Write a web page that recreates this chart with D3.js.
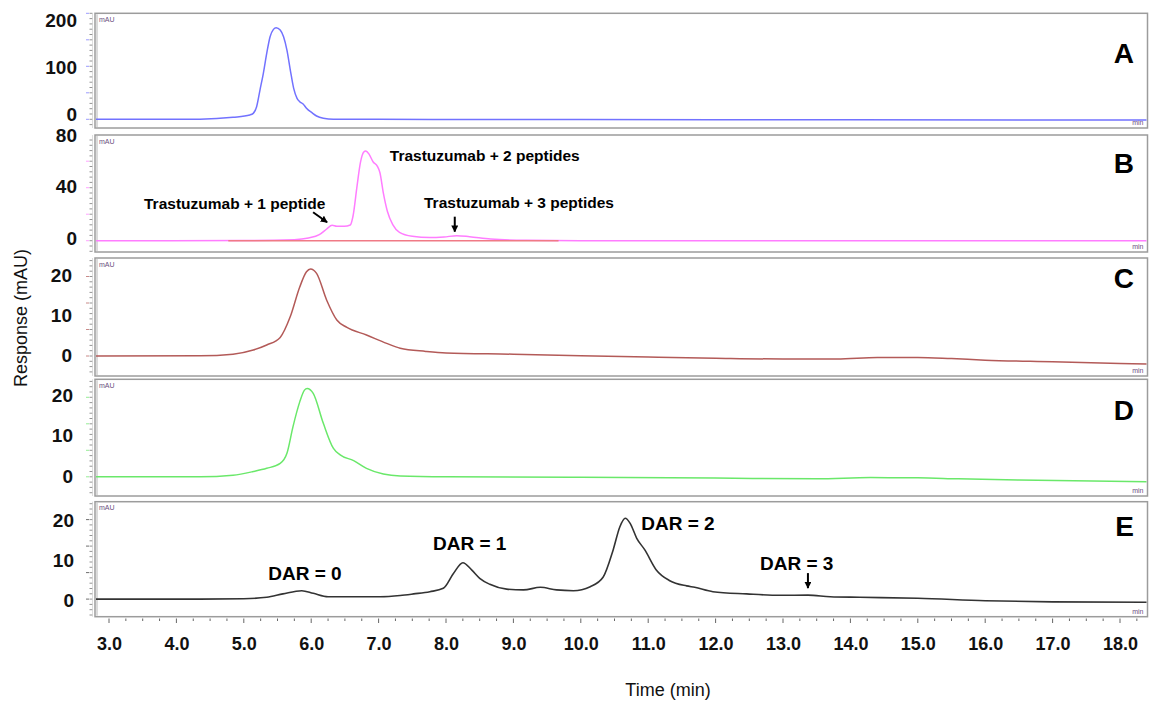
<!DOCTYPE html>
<html><head><meta charset="utf-8">
<script src="https://cdn.jsdelivr.net/npm/d3@7/dist/d3.min.js"></script>
<style>
body{margin:0;background:#fff}
svg{display:block}
text{font-family:"Liberation Sans",Arial,Helvetica,sans-serif}
</style>
</head><body>
<svg id="chart" width="1150" height="702"></svg>
<script>
// ---------------- DATA ----------------
const xTickValues = [3,4,5,6,7,8,9,10,11,12,13,14,15,16,17,18];
const panelLetters = ["A","B","C","D","E"];

const yTicksA = [0,100,200];
const yTicksB = [0,40,80];
const yTicksC = [0,10,20];
const yTicksD = [0,10,20];
const yTicksE = [0,10,20];

const timesA  = [2.79,3.5,4.35,4.84,5.09,5.14,5.19,5.24,5.29,5.34,5.39,5.44,5.48,5.54,5.59,5.64,5.69,5.74,5.79,5.83,5.88,5.93,6.01,6.08,6.18,6.33,7.0,10.0,14.0,18.41];
const valuesA = [-11.3,-11.3,-11,-7,-2,1.4,15.6,51,86.6,129,164.5,180,183.7,178.7,164.5,136,93.6,54.6,33.4,26.2,21.3,12.1,2.8,-4.3,-9.1,-11.3,-11.4,-11.8,-12.2,-12.8];

const timesB  = [2.79,5.0,5.75,5.96,6.12,6.23,6.31,6.38,6.49,6.58,6.62,6.68,6.73,6.78,6.81,6.86,6.92,6.98,7.02,7.07,7.13,7.21,7.31,7.50,7.76,7.97,8.16,8.35,8.66,9.19,9.99,14.0,18.41];
const valuesB = [-2.1,-2.0,-1.3,0,2.6,7.0,9.9,9.1,9.1,10.1,16.9,40.3,58.5,66.8,67.6,65,59,55.9,50.7,35.1,20.8,10.4,4.4,1.3,0.3,0.8,1.8,1.0,-0.8,-1.8,-2.1,-2.1,-2.1];
const baselineTimesB  = [4.77,9.67];
const baselineValuesB = [-2.1,-2.1];

const timesC  = [2.79,4.35,4.84,5.14,5.34,5.54,5.69,5.83,5.93,5.99,6.08,6.23,6.38,6.53,6.82,7.12,7.32,7.7,8.0,9.0,10.0,11.0,12.0,13.0,13.8,14.4,15.0,15.5,16.0,17.0,18.0,18.41];
const valuesC = [-0.25,-0.2,0.2,1.25,2.5,4.4,9.6,17,20.8,21.5,20.4,13.7,8.75,6.9,5.0,2.9,1.7,0.9,0.5,0.2,-0.2,-0.5,-0.8,-1.0,-1.0,-0.6,-0.6,-0.9,-1.3,-1.7,-2.1,-2.25];

const timesD  = [2.79,4.35,4.84,5.14,5.34,5.54,5.64,5.73,5.83,5.90,5.94,6.03,6.18,6.33,6.43,6.63,6.82,7.07,7.32,8.0,10.0,12.0,13.5,14.3,15.0,15.6,16.5,18.41];
const valuesD  = [-0.2,-0.2,0.2,1.1,1.9,3.1,5.6,12.2,18.3,21.2,21.6,20.4,13.0,6.8,5.2,3.8,1.9,0.5,0,-0.2,-0.3,-0.5,-0.7,-0.4,-0.45,-0.7,-1.0,-1.4];

const timesE  = [2.79,4.35,5.0,5.34,5.58,5.86,6.03,6.25,6.82,7.02,7.32,7.52,7.76,7.96,8.11,8.25,8.38,8.50,8.65,8.90,9.15,9.40,9.64,9.89,10.14,10.33,10.48,10.58,10.66,10.73,10.83,10.95,11.12,11.32,11.57,11.69,11.96,12.46,12.96,13.37,13.70,14.14,15.0,16.0,17.0,18.41];
const valuesE = [0.4,0.4,0.5,0.85,1.7,2.5,1.85,1.0,1.0,1.0,1.3,1.7,2.25,3.1,6.8,9.5,7.7,5.6,4.1,2.9,2.7,3.35,2.7,2.5,3.5,5.85,12.7,18.5,20.6,19.4,15.6,12.7,7.7,5.0,3.7,3.35,2.25,1.7,1.35,1.4,1.0,0.85,0.6,0.0,-0.3,-0.4];

// ---------------- LAYOUT ----------------
const frameLeft = 95, frameRight = 1147.5;
const x = d3.scaleLinear().domain([3,18]).range([109,1120]);

const panels = [
  {id:"A", top:13.3, bottom:128, ticks:yTicksA, y:d3.scaleLinear().domain([0,200]).range([114,20]), labelX:77, color:"#7272ff", t:timesA, v:valuesA, letterY:63},
  {id:"B", top:135, bottom:252, ticks:yTicksB, y:d3.scaleLinear().domain([0,80]).range([238,135]), labelX:77, color:"#ff7dff", t:timesB, v:valuesB, letterY:173},
  {id:"C", top:258, bottom:376, ticks:yTicksC, y:d3.scaleLinear().domain([0,20]).range([355,275]), labelX:72, color:"#b35a58", t:timesC, v:valuesC, letterY:288},
  {id:"D", top:379.3, bottom:496, ticks:yTicksD, y:d3.scaleLinear().domain([0,20]).range([476,395]), labelX:73, color:"#6ae86a", t:timesD, v:valuesD, letterY:420},
  {id:"E", top:501.7, bottom:616.7, ticks:yTicksE, y:d3.scaleLinear().domain([0,20]).range([600.7,520.7]), labelX:74, color:"#333333", t:timesE, v:valuesE, letterY:536}
];

const svg = d3.select("#chart");
const defs = svg.append("defs");
defs.append("marker").attr("id","arr").attr("viewBox","0 0 10 10").attr("refX",9).attr("refY",5)
  .attr("markerWidth",7).attr("markerHeight",7).attr("markerUnits","userSpaceOnUse").attr("orient","auto")
  .append("path").attr("d","M0,0 L10,5 L0,10 z").attr("fill","#000");

panels.forEach((p,i) => {
  const g = svg.append("g");
  defs.append("clipPath").attr("id","clip"+p.id).append("rect")
    .attr("x",frameLeft+1).attr("y",p.top+1).attr("width",frameRight-frameLeft-2).attr("height",p.bottom-p.top-2);

  // frame
  g.append("rect").attr("x",frameLeft).attr("y",p.top).attr("width",frameRight-frameLeft).attr("height",p.bottom-p.top)
    .attr("fill","#fff").attr("stroke","#9c9c9c").attr("stroke-width",1.5);
  g.append("line").attr("x1",frameLeft+2).attr("x2",frameLeft+2).attr("y1",p.top+1).attr("y2",p.bottom-1)
    .attr("stroke","#b8b8b8").attr("stroke-width",1);

  // instrument tick column (decorative)
  const base = p.y(p.v[0]);
  const step = 5.3;
  const minor = d3.range(Math.ceil((p.top - base)/step), Math.floor((p.bottom - base)/step)+1).map(k => ({k, yy: base + k*step}));
  g.selectAll(".mt").data(minor).enter().append("line")
    .attr("x1",89.5).attr("x2",92.5).attr("y1",d=>d.yy).attr("y2",d=>d.yy)
    .attr("stroke","#777").attr("stroke-width",0.8);
  g.selectAll(".Mt").data(minor.filter(d => d.k % 5 === 0)).enter().append("line")
    .attr("x1",86).attr("x2",89).attr("y1",d=>d.yy).attr("y2",d=>d.yy)
    .attr("stroke",p.color).attr("stroke-width",1).attr("opacity",0.7);
  g.append("line").attr("x1",92.5).attr("x2",92.5).attr("y1",p.top).attr("y2",p.bottom).attr("stroke","#c8c8c8").attr("stroke-width",0.6);

  // mAU / min labels
  g.append("text").attr("x",99).attr("y",p.top+8.5).text("mAU").attr("font-size",7).attr("fill","#6d4f80");
  g.append("text").attr("x",frameRight-4).attr("y",p.bottom-3).text("min").attr("font-size",7).attr("fill","#6d4f80").attr("text-anchor","end");

  // y labels
  const ax = d3.axisLeft(p.y).tickValues(p.ticks).tickSize(0).tickPadding(0).tickFormat(d3.format("d"));
  const ag = g.append("g").attr("transform",`translate(${p.labelX},0)`).call(ax);
  ag.select(".domain").remove();
  ag.selectAll("text").attr("font-size",19).attr("font-weight","bold").attr("fill","#111")
    .attr("font-family","Liberation Sans, Arial, sans-serif");

  // data
  const line = d3.line().x((d,j)=>x(p.t[j])).y((d,j)=>p.y(p.v[j])).curve(d3.curveMonotoneX);
  const cg = g.append("g").attr("clip-path",`url(#clip${p.id})`);
  if (p.id === "B") {
    const bl = d3.line().x((d,j)=>x(baselineTimesB[j])).y((d,j)=>p.y(baselineValuesB[j]));
    cg.append("path").attr("d",line(p.v)).attr("fill","none").attr("stroke",p.color).attr("stroke-width",1.5);
    cg.append("path").attr("d",bl(baselineValuesB)).attr("fill","none").attr("stroke","#f07a86").attr("stroke-width",1.6);
  } else {
    cg.append("path").attr("d",line(p.v)).attr("fill","none").attr("stroke",p.color).attr("stroke-width",p.id==="E"?1.6:1.5);
  }

  // panel letter
  g.append("text").attr("x",1134).attr("y",p.letterY).attr("text-anchor","end")
    .attr("font-size",28).attr("font-weight","bold").attr("fill","#000").text(panelLetters[i]);
});

// annotations panel B
const pB = panels[1];
const bold = (sel) => sel.attr("font-weight","bold").attr("fill","#000");
bold(svg.append("text").attr("x",x(6.81)+24).attr("y",pB.y(67.6)+10).attr("font-size",15.5).text("Trastuzumab + 2 peptides"));
bold(svg.append("text").attr("x",144).attr("y",pB.y(9.9)-16).attr("font-size",15.5).text("Trastuzumab + 1 peptide"));
bold(svg.append("text").attr("x",424).attr("y",pB.y(1.8)-28).attr("font-size",15.5).text("Trastuzumab + 3 peptides"));
// arrows
{
  const tx = x(6.31)-5, ty = pB.y(9.9)-3;
  svg.append("line").attr("x1",tx-14).attr("y1",ty-10).attr("x2",tx).attr("y2",ty)
    .attr("stroke","#000").attr("stroke-width",2).attr("marker-end","url(#arr)");
  const tx2 = x(8.13), ty2 = pB.y(1.8)-4;
  svg.append("line").attr("x1",tx2).attr("y1",ty2-15).attr("x2",tx2).attr("y2",ty2)
    .attr("stroke","#000").attr("stroke-width",2).attr("marker-end","url(#arr)");
}

// annotations panel E
const pE = panels[4];
const darLabels = [
  {txt:"DAR = 0", t:5.86, v:2.5,  cx:305,   dy:-11},
  {txt:"DAR = 1", t:8.25, v:9.5,  cx:469.7, dy:-13},
  {txt:"DAR = 2", t:10.66,v:20.6, cx:678,   dy:11.7},
  {txt:"DAR = 3", t:13.37,v:1.4,  cx:796.7, dy:-25}
];
darLabels.forEach(d => {
  bold(svg.append("text").attr("x",d.cx).attr("y",pE.y(d.v)+d.dy).attr("text-anchor","middle").attr("font-size",19).text(d.txt));
});
{
  const tx = x(13.37), ty = pE.y(1.4)-7;
  svg.append("line").attr("x1",tx).attr("y1",ty-15).attr("x2",tx).attr("y2",ty)
    .attr("stroke","#000").attr("stroke-width",2).attr("marker-end","url(#arr)");
}

// x axis
const minorX = d3.range(2.75, 18.5, 0.25).filter(t => x(t) >= frameLeft && x(t) <= frameRight);
svg.selectAll(".xm").data(minorX).enter().append("line")
  .attr("x1",d=>x(d)).attr("x2",d=>x(d)).attr("y1",618.5).attr("y2",d=> Math.abs(d-Math.round(d))<1e-6 ? 623 : 621)
  .attr("stroke","#666").attr("stroke-width",1);
const xa = d3.axisBottom(x).tickValues(xTickValues).tickSize(0).tickPadding(0).tickFormat(d3.format(".1f"));
const xg = svg.append("g").attr("transform","translate(0,637)").call(xa);
xg.select(".domain").remove();
xg.selectAll("text").attr("font-size",18).attr("font-weight","bold").attr("fill","#111")
  .attr("font-family","Liberation Sans, Arial, sans-serif");

// axis titles
svg.append("text").attr("x",668).attr("y",696).attr("text-anchor","middle").attr("font-size",18).attr("fill","#111").text("Time (min)");
svg.append("text").attr("transform","translate(27,318) rotate(-90)").attr("text-anchor","middle").attr("font-size",18).attr("fill","#111").text("Response (mAU)");
</script>
</body></html>
